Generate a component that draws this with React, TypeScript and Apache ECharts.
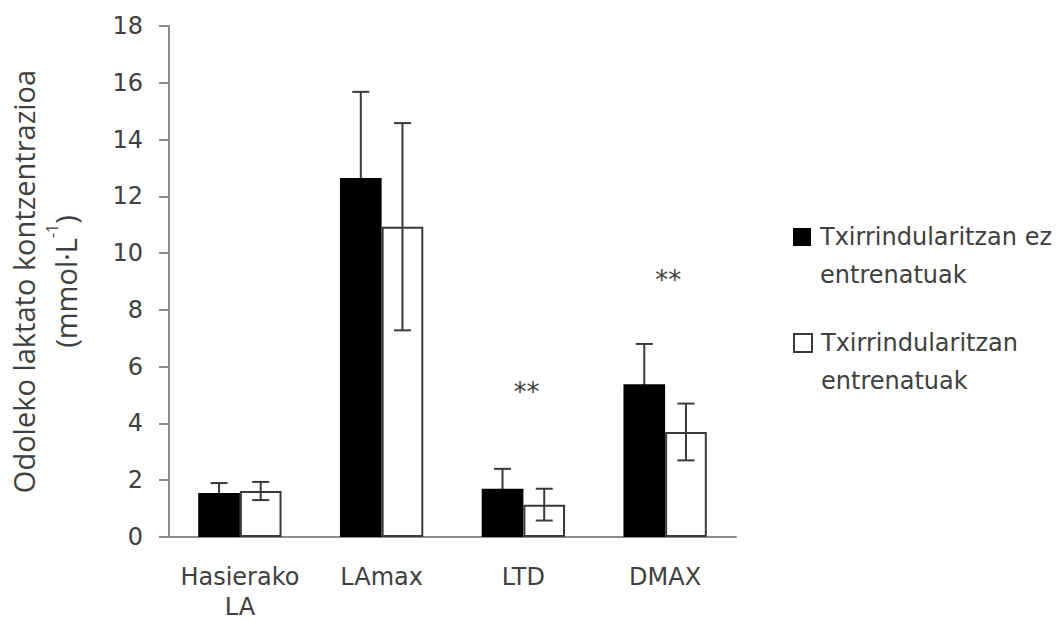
import React, { useEffect, useRef } from "react";
import * as echarts from "echarts";

const categories = ["Hasierako\nLA", "LAmax", "LTD", "DMAX"];
const seriesNames = ["Txirrindularitzan ez\nentrenatuak", "Txirrindularitzan\nentrenatuak"];
const untrainedMean = [1.55, 12.65, 1.7, 5.38];
const untrainedSD = [0.35, 3.03, 0.7, 1.42];
const trainedMean = [1.62, 10.93, 1.14, 3.7];
const trainedSD = [0.32, 3.65, 0.56, 1.0];
const sigCategories = ["LTD", "DMAX"];
const sigMarkY = [5.1, 9.05];
const sigLabels = ["**", "**"];
const yMin = 0;
const yMax = 18;
const yStep = 2;

const BAR_FRAC = 0.294;
const TXT = "#404040";
const AXIS = "#8c8c8c";
const FONT = "DejaVu Sans";

function errorRenderer(side: number) {
  return (params: any, api: any) => {
    const ci = api.value(0);
    const lo = api.value(1);
    const hi = api.value(2);
    const band = api.size([1, 0])[0];
    const off = (side * band * BAR_FRAC) / 2;
    const x = api.coord([ci, 0])[0] + off;
    const yLo = api.coord([ci, lo])[1];
    const yHi = api.coord([ci, hi])[1];
    const cap = 8.5;
    const st = { stroke: "#3a3a3a", lineWidth: 2 };
    return {
      type: "group",
      children: [
        { type: "line", shape: { x1: x, y1: yLo, x2: x, y2: yHi }, style: st },
        { type: "line", shape: { x1: x - cap, y1: yHi, x2: x + cap, y2: yHi }, style: st },
        { type: "line", shape: { x1: x - cap, y1: yLo, x2: x + cap, y2: yLo }, style: st },
      ],
    };
  };
}

export default function App() {
  const ref = useRef<HTMLDivElement>(null);
  useEffect(() => {
    if (!ref.current) return;
    const chart = echarts.init(ref.current, undefined, { renderer: "svg" });
    const legendBase = {
      orient: "vertical",
      left: 793,
      padding: 0,
      itemWidth: 18,
      itemHeight: 18,
      icon: "rect",
      formatter: (name: string) => "\n" + name,
      textStyle: {
        fontFamily: FONT,
        fontSize: 24,
        lineHeight: 38,
        color: TXT,
        padding: [0, 0, 0, 4],
      },
    };
    chart.setOption({
      animation: false,
      backgroundColor: "#ffffff",
      grid: {
        left: 169,
        right: 325,
        top: 26,
        bottom: 87,
        containLabel: false,
        outerBoundsMode: "none",
      },
      legend: [
        { ...legendBase, top: 180, data: [seriesNames[0]] },
        { ...legendBase, top: 286, data: [seriesNames[1]] },
      ],
      xAxis: {
        type: "category",
        data: categories,
        axisLine: { show: true, lineStyle: { color: AXIS, width: 2 } },
        axisTick: { show: false },
        axisLabel: {
          fontFamily: FONT,
          fontSize: 24,
          lineHeight: 30,
          color: TXT,
          margin: 25,
          interval: 0,
        },
      },
      yAxis: {
        type: "value",
        min: yMin,
        max: yMax,
        interval: yStep,
        splitLine: { show: false },
        axisLine: { show: true, lineStyle: { color: AXIS, width: 2 } },
        axisTick: { show: true, length: 10, lineStyle: { color: AXIS, width: 2 } },
        axisLabel: { fontFamily: FONT, fontSize: 24, color: TXT, margin: 26 },
        name: "Odoleko laktato kontzentrazioa\n(mmol·L{sup|-1})",
        nameLocation: "middle",
        nameGap: 83,
        nameTextStyle: {
          fontFamily: "Open Sans",
          fontSize: 29,
          lineHeight: 42,
          color: TXT,
          rich: {
            sup: {
              fontFamily: "Open Sans",
              fontSize: 16,
              lineHeight: 22,
              verticalAlign: "top",
              color: TXT,
            },
          },
        },
      },
      series: [
        {
          name: seriesNames[0],
          type: "bar",
          data: untrainedMean,
          barWidth: BAR_FRAC * 100 + "%",
          barGap: "0%",
          z: 2,
          itemStyle: { color: "#000000" },
        },
        {
          name: seriesNames[1],
          type: "bar",
          data: trainedMean,
          barWidth: BAR_FRAC * 100 + "%",
          barGap: "0%",
          z: 2,
          itemStyle: { color: "#ffffff", borderColor: "#3a3a3a", borderWidth: 2 },
        },
        {
          name: "err0",
          type: "custom",
          z: 1,
          renderItem: errorRenderer(-1),
          encode: { x: 0, y: [1, 2] },
          data: untrainedMean.map((m, i) => [i, m - untrainedSD[i], m + untrainedSD[i]]),
        },
        {
          name: "err1",
          type: "custom",
          z: 3,
          renderItem: errorRenderer(1),
          encode: { x: 0, y: [1, 2] },
          data: trainedMean.map((m, i) => [i, m - trainedSD[i], m + trainedSD[i]]),
        },
        {
          name: "sig",
          type: "custom",
          z: 4,
          encode: { x: 0, y: 1 },
          data: sigCategories.map((c, i) => [categories.indexOf(c), sigMarkY[i]]),
          renderItem: (params: any, api: any) => {
            const p = api.coord([api.value(0), api.value(1)]);
            return {
              type: "text",
              x: p[0] + 3,
              y: p[1],
              style: {
                text: sigLabels[params.dataIndex],
                fill: TXT,
                fontFamily: FONT,
                fontSize: 26,
                align: "center",
                verticalAlign: "middle",
              },
            };
          },
        },
      ],
    } as any);
    return () => chart.dispose();
  }, []);
  return (
    <div
      ref={ref}
      style={{ position: "absolute", left: 0, top: 0, width: 1061, height: 624 }}
    />
  );
}
